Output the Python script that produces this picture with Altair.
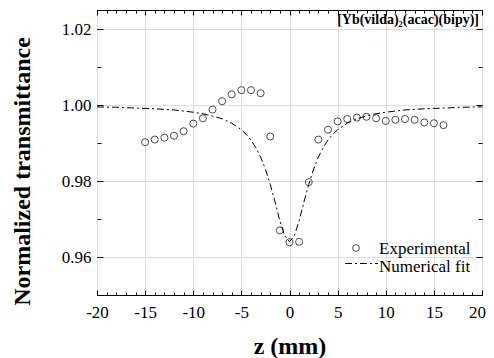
import altair as alt
import pandas as pd

z_exp = [-15, -14, -13, -12, -11, -10, -9, -8, -7, -6, -5, -4, -3, -2, -1, 0, 1, 2,
         3, 4, 5, 6, 7, 8, 9, 10, 11, 12, 13, 14, 15, 16]
t_exp = [0.9902, 0.9909, 0.9914, 0.9919, 0.9931, 0.9951, 0.9965, 0.9988, 1.0010, 1.0028,
         1.0039, 1.0039, 1.0031, 0.9917, 0.9670, 0.9639, 0.9640, 0.9797,
         0.9909, 0.9935, 0.9957, 0.9963, 0.9967, 0.9969, 0.9965, 0.9958, 0.9961, 0.9963,
         0.9961, 0.9954, 0.9952, 0.9947]

# Numerical fit curve
z_fit = [-20, -18, -16, -14, -12, -10, -9, -8, -7, -6, -5, -4.5, -4, -3.5, -3, -2.5, -2,
         -1.5, -1, -0.5, 0, 0.5, 1, 1.5, 2, 2.5, 3, 3.5, 4, 4.5, 5, 6, 7, 8, 9, 10, 12,
         14, 16, 18, 20]
t_fit = [0.9995, 0.9994, 0.9992, 0.9990, 0.9987, 0.9981, 0.9977, 0.9971, 0.9964, 0.9952,
         0.9935, 0.9923, 0.9908, 0.9888, 0.9863, 0.9831, 0.9791, 0.9745, 0.9695, 0.9656,
         0.9640, 0.9656, 0.9695, 0.9745, 0.9791, 0.9831, 0.9863, 0.9888, 0.9908, 0.9923,
         0.9935, 0.9952, 0.9964, 0.9971, 0.9977, 0.9981, 0.9987, 0.9990, 0.9992, 0.9994,
         0.9995]

x_major = [-20, -15, -10, -5, 0, 5, 10, 15, 20]
x_minor = list(range(-20, 21))
y_major = [0.96, 0.98, 1.00, 1.02]
y_minor = [0.95, 0.96, 0.97, 0.98, 0.99, 1.00, 1.01, 1.02]

title_text = ["[Yb(vilda)\u2082(acac)(bipy)]"]
legend_labels = ["Experimental", "Numerical fit"]

FONT = "Liberation Serif"

exp_df = pd.DataFrame({"z": z_exp, "t": t_exp})
fit_df = pd.DataFrame({"z": z_fit, "t": t_fit})

xs = alt.Scale(domain=[-20, 20], nice=False, zero=False)
ys = alt.Scale(domain=[0.95, 1.025], nice=False, zero=False)

common = dict(domain=False, tickColor="black", labelColor="black", labelFont=FONT,
              labelFontSize=17, tickWidth=1, labelFlush=False, labelOverlap=False)

# Layer 1: points + bottom/left labelled axes
points = alt.Chart(exp_df).mark_point(
    shape="circle", size=50, filled=False, color="black", strokeWidth=1
).encode(
    x=alt.X("z:Q", scale=xs, axis=alt.Axis(
        orient="bottom", values=x_major, tickSize=5, offset=-5, labelPadding=9,
        labelExpr="'' + datum.value",
        labelOffset={"condition": {"test": "datum.value == 20", "value": -5}, "value": 0},
        title="z (mm)", titleFont=FONT, titleFontSize=24, titleFontWeight="bold",
        titleColor="black", titleBaseline="middle", titleY=56, **common)),
    y=alt.Y("t:Q", scale=ys, axis=alt.Axis(
        orient="left", values=y_major, tickSize=6, offset=-6, labelPadding=6,
        format=".2f", title="Normalized transmittance", titleFont=FONT,
        titleFontSize=24, titleFontWeight="bold", titleColor="black",
        titleBaseline="middle", titleX=-81, titleY=161, titleAngle=-90, **common)),
)

# Layer 2: fit line + bottom/left minor ticks
fit = alt.Chart(fit_df).mark_line(
    color="black", strokeWidth=1, strokeDash=[7, 3, 2, 3]
).encode(
    x=alt.X("z:Q", scale=xs, axis=alt.Axis(
        orient="bottom", values=x_minor, tickSize=3, offset=-3, labels=False,
        title=None, **common)),
    y=alt.Y("t:Q", scale=ys, axis=alt.Axis(
        orient="left", values=y_minor, tickSize=4, offset=-4, labels=False,
        title=None, **common)),
)

# Layers 3 & 4: top/right ticks (invisible marks)
top_major = alt.Chart(exp_df).mark_point(opacity=0).encode(
    x=alt.X("z:Q", scale=xs, axis=alt.Axis(
        orient="top", values=x_major, tickSize=5, offset=-5, labels=False,
        title=None, **common)),
    y=alt.Y("t:Q", scale=ys, axis=alt.Axis(
        orient="right", values=y_major, tickSize=6, offset=-6, labels=False,
        title=None, **common)),
)
top_minor = alt.Chart(exp_df).mark_point(opacity=0).encode(
    x=alt.X("z:Q", scale=xs, axis=alt.Axis(
        orient="top", values=x_minor, tickSize=3, offset=-3, labels=False,
        title=None, **common)),
    y=alt.Y("t:Q", scale=ys, axis=alt.Axis(
        orient="right", values=y_minor, tickSize=4, offset=-4, labels=False,
        title=None, **common)),
)

# Title inside plot
title_df = pd.DataFrame({"label": title_text})
title = alt.Chart(title_df).mark_text(
    align="right", baseline="middle", font=FONT, fontSize=14, fontWeight="bold",
    color="black"
).encode(x=alt.value(382), y=alt.value(10), text="label:N")

# Legend
leg_df1 = pd.DataFrame({"label": [legend_labels[0]]})
leg_df2 = pd.DataFrame({"label": [legend_labels[1]]})
leg_pt = alt.Chart(leg_df1).mark_point(
    shape="circle", size=45, filled=False, color="black", strokeWidth=1
).encode(x=alt.value(259), y=alt.value(238))
leg_t1 = alt.Chart(leg_df1).mark_text(
    align="left", baseline="middle", font=FONT, fontSize=17, color="black"
).encode(x=alt.value(282), y=alt.value(239), text="label:N")
leg_line = alt.Chart(leg_df2).mark_rule(
    color="black", strokeWidth=1, strokeDash=[7, 3, 2, 3]
).encode(x=alt.value(248), x2=alt.value(281), y=alt.value(253.5))
leg_t2 = alt.Chart(leg_df2).mark_text(
    align="left", baseline="middle", font=FONT, fontSize=17, color="black"
).encode(x=alt.value(282), y=alt.value(257), text="label:N")

chart = alt.layer(
    points, fit, top_major, top_minor, title, leg_pt, leg_t1, leg_line, leg_t2
).resolve_axis(x="independent", y="independent").properties(
    width=385, height=285,
    autosize=alt.AutoSizeParams(type="none"),
    padding={"left": 89, "top": 2, "right": 4, "bottom": 63},
).configure_axis(labelFont=FONT, titleFont=FONT).configure_view(
    stroke="black", strokeWidth=1)

chart.save("out.html", embed_options={"renderer": "svg", "actions": False})
